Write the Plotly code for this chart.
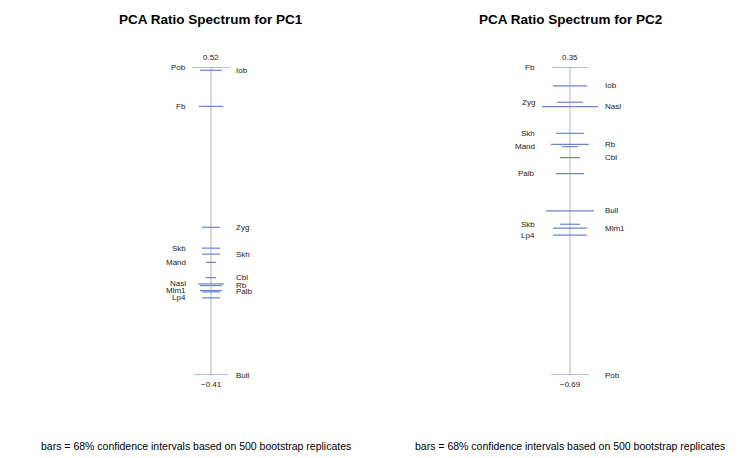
import plotly.graph_objects as go

# colours
BAR_COLOR = '#6d84d2'
AXIS_COLOR = '#b4b4b4'
FONT = 'Liberation Sans, Arial, sans-serif'

# PC1 ratio spectrum (sorted top to bottom)
pc1_vars = ['Pob', 'Iob', 'Fb', 'Zyg', 'Skb', 'Skh', 'Mand', 'Cbl', 'Nasl', 'Rb', 'Mlm1', 'Palb', 'Lp4', 'Bull']
pc1_ratio = [0.52, 0.510, 0.401, 0.036, -0.027, -0.045, -0.070, -0.116, -0.135, -0.140, -0.155, -0.159, -0.177, -0.41]
pc1_ci = [19, 11, 12, 9, 9, 9, 5, 5, 13, 11, 11, 9, 9, 17]

# PC2 ratio spectrum (sorted top to bottom)
pc2_vars = ['Fb', 'Iob', 'Zyg', 'Nasl', 'Skh', 'Rb', 'Mand', 'Cbl', 'Palb', 'Bull', 'Skb', 'Mlm1', 'Lp4', 'Pob']
pc2_ratio = [0.35, 0.286, 0.231, 0.216, 0.126, 0.089, 0.081, 0.044, -0.010, -0.136, -0.181, -0.194, -0.218, -0.69]
pc2_ci = [18, 17, 13, 28, 14, 19, 8, 10, 14, 24, 10, 17, 17, 19]

footnote = 'bars = 68% confidence intervals based on 500 bootstrap replicates'

# page body has an 8px margin, so the figure is a bit smaller and shifted
OFF = 8
W, H = 756 - OFF, 458 - OFF
fig = go.Figure()

panels = [
    dict(name='PC1', vars=pc1_vars, ratio=pc1_ratio, ci=pc1_ci, cx=211, lab=23, foot=196),
    dict(name='PC2', vars=pc2_vars, ratio=pc2_ratio, ci=pc2_ci, cx=570, lab=33, foot=570),
]

y_top, y_bot = 67 - OFF, 375 - OFF
annotations = []
for i, p in enumerate(panels):
    xa = 'x' if i == 0 else 'x2'
    ya = 'y' if i == 0 else 'y2'
    hi, lo = max(p['ratio']), min(p['ratio'])
    # vertical spine
    fig.add_trace(go.Scatter(x=[0, 0], y=[lo, hi], mode='lines', xaxis=xa, yaxis=ya,
                             line=dict(color=AXIS_COLOR, width=1), hoverinfo='skip', showlegend=False))
    # confidence bars
    fig.add_trace(go.Scatter(x=[0] * len(p['ratio']), y=p['ratio'], mode='markers', xaxis=xa, yaxis=ya,
                             marker=dict(size=0.1, color='rgba(0,0,0,0)'),
                             error_x=dict(type='data', array=p['ci'], symmetric=True, width=0,
                                          color=BAR_COLOR, thickness=1.2),
                             text=p['vars'], showlegend=False))
    # variable labels, alternating sides
    for k, (v, r) in enumerate(zip(p['vars'], p['ratio'])):
        left = k % 2 == 0
        annotations.append(dict(x=-p['lab'] if left else p['lab'], y=r, xref=xa, yref=ya, text=v,
                                showarrow=False, xanchor='right' if left else 'left', yanchor='middle',
                                font=dict(size=8, color='#222222', family=FONT)))
    # end values
    annotations.append(dict(x=0, y=hi, xref=xa, yref=ya, text=f'{hi:.2f}', showarrow=False,
                            yshift=10, font=dict(size=8, color='#222222', family=FONT)))
    annotations.append(dict(x=0, y=lo, xref=xa, yref=ya, text=f'{lo:.2f}'.replace('-', '\u2212'),
                            showarrow=False, yshift=-9, font=dict(size=8, color='#222222', family=FONT)))
    # title and footnote
    annotations.append(dict(x=(p['cx'] - OFF) / W, y=1 - (19 - OFF) / H, xref='paper', yref='paper',
                            text='<b>PCA Ratio Spectrum for %s</b>' % p['name'], showarrow=False,
                            xanchor='center', yanchor='middle',
                            font=dict(size=13.5, color='#000000', family=FONT)))
    annotations.append(dict(x=(p['foot'] - OFF) / W, y=1 - (446 - OFF) / H, xref='paper', yref='paper',
                            text=footnote, showarrow=False, xanchor='center', yanchor='middle',
                            font=dict(size=10.5, color='#000000', family=FONT)))

ax = dict(visible=False, range=[-160, 160], fixedrange=True)
fig.update_layout(
    width=W, height=H,
    margin=dict(l=0, r=0, t=0, b=0),
    paper_bgcolor='white', plot_bgcolor='white',
    xaxis=dict(ax, domain=[(211 - OFF - 160) / W, (211 - OFF + 160) / W]),
    xaxis2=dict(ax, domain=[(570 - OFF - 160) / W, (570 - OFF + 160) / W]),
    yaxis=dict(visible=False, range=[min(pc1_ratio), max(pc1_ratio)], domain=[1 - y_bot / H, 1 - y_top / H]),
    yaxis2=dict(visible=False, range=[min(pc2_ratio), max(pc2_ratio)], domain=[1 - y_bot / H, 1 - y_top / H]),
    annotations=annotations,
    showlegend=False,
)

fig.write_html('out.html')
